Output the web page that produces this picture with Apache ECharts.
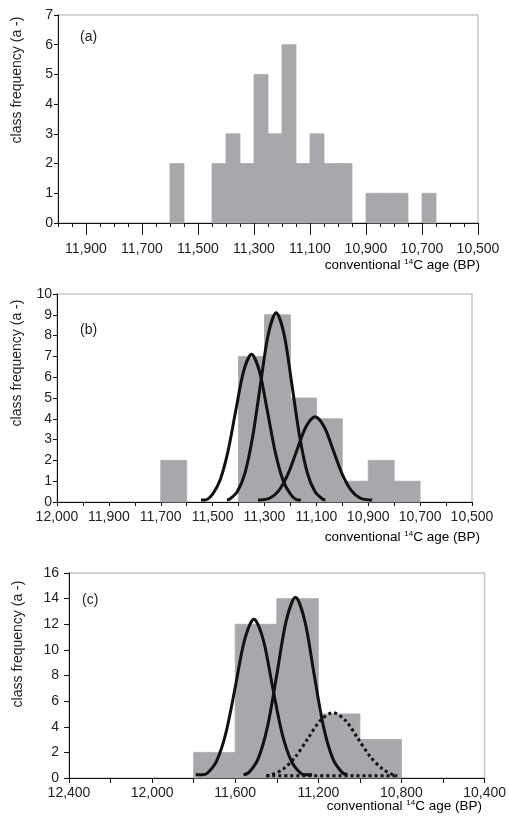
<!DOCTYPE html>
<html>
<head>
<meta charset="utf-8">
<script src="https://cdn.jsdelivr.net/npm/echarts@6/dist/echarts.min.js"></script>
<style>
  html, body { margin: 0; padding: 0; background: #fff; }
  #chart { width: 509px; height: 820px; }
</style>
</head>
<body>
<div id="chart"></div>
<script>
// panel (a): 50-yr classes, start (older edge) of each class
const aBins = [11600, 11450, 11400, 11350, 11300, 11250, 11200, 11150, 11100, 11050, 11000, 10900, 10850, 10800, 10700];
const aCounts = [2, 2, 3, 2, 5, 3, 6, 2, 3, 2, 2, 1, 1, 1, 1];
const aWidth = 50;
const aTicks = [11900, 11700, 11500, 11300, 11100, 10900, 10700, 10500];

// panel (b): 100-yr classes
const bBins = [11700, 11400, 11300, 11200, 11100, 11000, 10900, 10800];
const bCounts = [2, 7, 9, 5, 4, 1, 2, 1];
const bWidth = 100;
const bTickValues = [12100, 11900, 11700, 11500, 11300, 11100, 10900, 10700, 10500];
const bTickLabels = ['12,000', '11,900', '11,700', '11,500', '11,300', '11,100', '10,900', '10,700', '10,500'];

const bCurve1 = [[11545, 0.1], [11530, 0.1], [11500, 0.38], [11470, 1.09], [11440, 2.48], [11410, 4.45], [11380, 6.31], [11350, 7.1],
  [11320, 6.31], [11290, 4.45], [11260, 2.48], [11230, 1.09], [11200, 0.38], [11170, 0.1], [11160, 0.1]];
const bCurve2 = [[11445, 0.1], [11435, 0.13], [11405, 0.49], [11375, 1.4], [11345, 3.18], [11315, 5.7], [11285, 8.09], [11255, 9.1],
  [11225, 8.09], [11195, 5.7], [11165, 3.18], [11135, 1.4], [11105, 0.49], [11075, 0.13], [11065, 0.1]];
const bCurve3 = [[11325, 0.1], [11315, 0.1], [11280, 0.18], [11245, 0.55], [11210, 1.33], [11175, 2.49], [11140, 3.62], [11105, 4.1],
  [11070, 3.62], [11035, 2.49], [11000, 1.33], [10965, 0.55], [10930, 0.18], [10895, 0.1], [10885, 0.1]];

// panel (c): 200-yr classes
const cBins = [11800, 11600, 11400, 11200, 11000];
const cCounts = [2, 12, 14, 5, 3];
const cWidth = 200;

const cCurve1 = [[11790, 0.25], [11760, 0.25], [11735, 0.37], [11690, 1.32], [11645, 3.51], [11600, 7.08], [11555, 10.78], [11510, 12.4],
  [11465, 10.78], [11420, 7.08], [11375, 3.51], [11330, 1.32], [11285, 0.37], [11260, 0.25], [11230, 0.25]];
const cCurve2 = [[11560, 0.25], [11535, 0.42], [11490, 1.49], [11445, 3.99], [11400, 8.05], [11355, 12.25], [11310, 14.1],
  [11265, 12.25], [11220, 8.05], [11175, 3.99], [11130, 1.49], [11085, 0.42], [11060, 0.25]];
const cCurve3 = [[11450, 0.18], [11430, 0.22], [11370, 0.69], [11310, 1.66], [11250, 3.09], [11190, 4.5], [11130, 5.1],
  [11070, 4.5], [11010, 3.09], [10950, 1.66], [10890, 0.69], [10840, 0.25], [10820, 0.18]];
const cBase3 = [[11450, 0.18], [10815, 0.18]];

const FONT = 'Liberation Sans, Arial, sans-serif';
const TXT = '#222';
const BAR = '#a7a8ab';

function histData(bins, counts, width) {
  return bins.map((b, i) => [b, b - width, counts[i]]);
}

function renderClass(params, api) {
  const p0 = api.coord([api.value(0), 0]);
  const p1 = api.coord([api.value(1), api.value(2)]);
  return {
    type: 'rect',
    shape: {
      x: Math.min(p0[0], p1[0]),
      y: p1[1],
      width: Math.abs(p1[0] - p0[0]),
      height: p0[1] - p1[1],
    },
    style: { fill: BAR, stroke: BAR, lineWidth: 0.8 },
  };
}

// long ticks under the labelled values of panel (a)
function renderLongTick(params, api) {
  const p = api.coord([api.value(0), api.value(1)]);
  const x = Math.round(p[0]) + 0.5;
  return {
    type: 'line',
    shape: { x1: x, y1: p[1], x2: x, y2: p[1] + 12 },
    style: { stroke: '#111', lineWidth: 1 },
  };
}

function xAxisBase(gridIndex, min, max, interval) {
  return {
    type: 'value',
    gridIndex,
    position: 'bottom',
    min,
    max,
    interval,
    inverse: true,
    axisLine: { lineStyle: { color: '#111', width: 1 } },
    axisTick: { lineStyle: { color: '#111' }, length: 4 },
    splitLine: { show: false },
    axisLabel: { color: TXT, fontSize: 14, fontFamily: FONT, margin: 8 },
  };
}

function yAxisBase(gridIndex, max, interval, margin) {
  return {
    type: 'value',
    gridIndex,
    min: 0,
    max,
    interval,
    axisLine: { show: true, lineStyle: { color: '#111', width: 1 } },
    axisTick: { show: true, length: 4, lineStyle: { color: '#111' } },
    splitLine: { show: false },
    axisLabel: { color: TXT, fontSize: 14, fontFamily: FONT, margin },
  };
}

function curve(data, xi, yi, dotted) {
  return {
    type: 'line',
    xAxisIndex: xi,
    yAxisIndex: yi,
    data,
    showSymbol: false,
    smooth: 0.3,
    z: 5,
    silent: true,
    lineStyle: dotted
      ? { color: '#111', width: 3, type: [3, 3] }
      : { color: '#111', width: 3 },
  };
}

function axisName(x, y) {
  return {
    type: 'text',
    x,
    y,
    style: {
      text: '{n|conventional }{s|14}{n|C age (BP)}',
      align: 'right',
      verticalAlign: 'middle',
      rich: {
        n: { fontSize: 13.5, fontFamily: FONT, color: TXT },
        s: { fontSize: 8, fontFamily: FONT, color: TXT, padding: [0, 0, 6, 0] },
      },
    },
  };
}

function yName(x, y) {
  return {
    type: 'text',
    x,
    y,
    rotation: Math.PI / 2,
    style: {
      text: 'class frequency (a -)',
      fill: TXT,
      font: '14px ' + FONT,
      textAlign: 'center',
      textVerticalAlign: 'middle',
    },
  };
}

function panelTag(text, x, y) {
  return {
    type: 'text',
    x,
    y,
    style: { text, fill: TXT, font: '14px ' + FONT, textVerticalAlign: 'middle' },
  };
}

const gridStyle = { show: true, borderColor: '#c6c6c6', borderWidth: 1.5, backgroundColor: 'transparent' };

const xA = xAxisBase(0, 10500, 12000, 50);
xA.axisLabel.customValues = aTicks;
xA.axisLabel.margin = 19;

const xB = xAxisBase(1, 10500, 12100, 100);
xB.axisLabel.customValues = bTickValues;
xB.axisLabel.formatter = (v) => bTickLabels[bTickValues.indexOf(v)];

const xC = xAxisBase(2, 10400, 12400, 200);
xC.axisLabel.formatter = (v) => (v % 400 === 0 ? echarts.format.addCommas(v) : '');
xC.axisTick.length = 5;

const yC = yAxisBase(2, 16, 2, 10);
yC.axisTick.length = 5;

const option = {
  backgroundColor: '#fff',
  animation: false,
  grid: [
    Object.assign({ left: 58, right: 31, top: 15, height: 208 }, gridStyle),
    Object.assign({ left: 57, right: 37, top: 294, height: 208 }, gridStyle),
    Object.assign({ left: 69, right: 22, top: 573, height: 205 }, gridStyle),
  ],
  xAxis: [xA, xB, xC],
  yAxis: [yAxisBase(0, 7, 1, 5), yAxisBase(1, 10, 1, 5), yC],
  series: [
    { type: 'custom', xAxisIndex: 0, yAxisIndex: 0, data: histData(aBins, aCounts, aWidth), renderItem: renderClass, encode: { x: [0, 1], y: 2 } },
    { type: 'custom', xAxisIndex: 0, yAxisIndex: 0, data: aTicks.map((v) => [v, 0]), renderItem: renderLongTick, encode: { x: 0, y: 1 }, clip: false, silent: true, z: 6 },
    { type: 'custom', xAxisIndex: 1, yAxisIndex: 1, data: histData(bBins, bCounts, bWidth), renderItem: renderClass, encode: { x: [0, 1], y: 2 } },
    { type: 'custom', xAxisIndex: 2, yAxisIndex: 2, data: histData(cBins, cCounts, cWidth), renderItem: renderClass, encode: { x: [0, 1], y: 2 } },
    curve(bCurve1, 1, 1),
    curve(bCurve2, 1, 1),
    curve(bCurve3, 1, 1),
    curve(cBase3, 2, 2, true),
    curve(cCurve3, 2, 2, true),
    curve(cCurve1, 2, 2),
    curve(cCurve2, 2, 2),
  ],
  graphic: [
    yName(17, 80),
    yName(17, 363),
    yName(18, 644),
    panelTag('(a)', 80, 37),
    panelTag('(b)', 80, 330),
    panelTag('(c)', 82, 600),
    axisName(480, 265),
    axisName(480, 537),
    axisName(482, 806),
  ],
};

const chart = echarts.init(document.getElementById('chart'), null, { renderer: 'canvas' });
chart.setOption(option);
</script>
</body>
</html>
